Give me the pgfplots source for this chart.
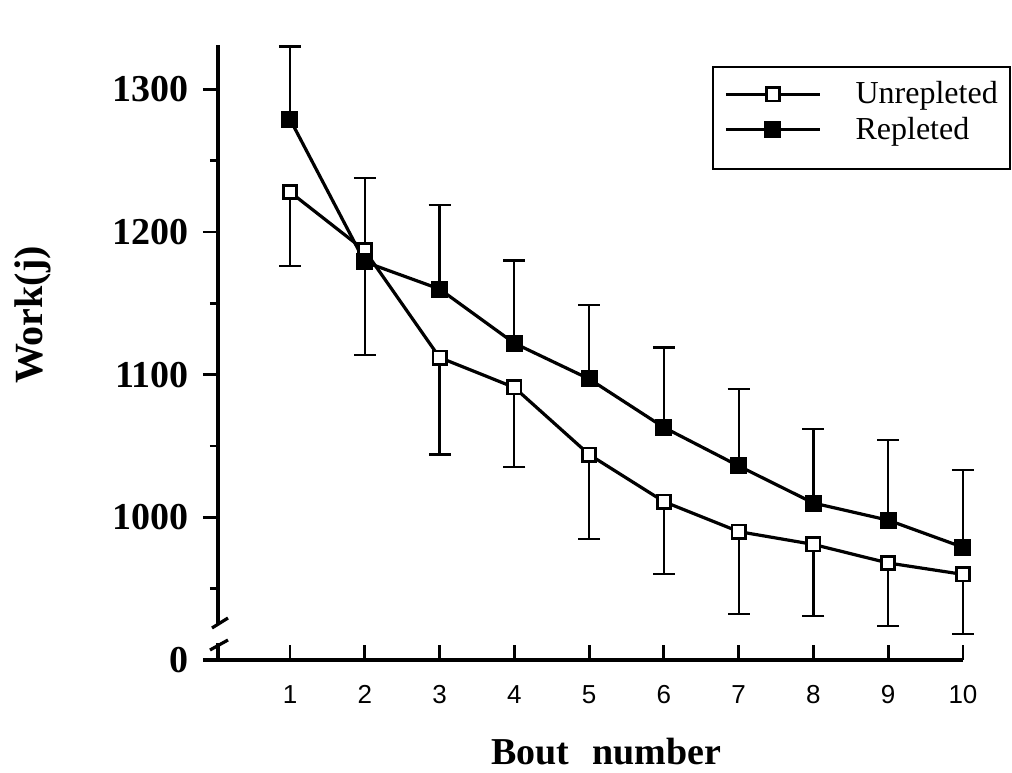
\documentclass[border=0pt]{standalone}
\usepackage{fontspec}
\setmainfont{Liberation Serif}
\newfontfamily\hel{Liberation Sans}
\usepackage{pgfplots}
\usepackage{pgfplotstable}
\pgfplotsset{compat=1.18}

% bout, unrepleted (mean, -SE), repleted (mean, +SE)
\pgfplotstableread{
x   U     Um   R     Rp
1   1228  52   1279  51
2   1187  73   1179  59
3   1112  68   1160  59
4   1091  56   1122  58
5   1044  59   1097  52
6   1011  51   1063  56
7   990   58   1036  54
8   981   50   1010  52
9   968   44   998   56
10  960   42   979   54
}\worktable

\begin{document}
\begin{tikzpicture}
\begin{axis}[
    scale only axis,
    width=372.5pt, height=307.5pt,
    xmin=0.037, xmax=10, ymin=900, ymax=1331,
    axis x line=bottom, axis y line=left,
    axis line style={draw=none,-},
    tick align=outside,
    major tick length=7.5pt, minor tick length=4pt,
    every tick/.style={black, line width=1.4pt},
    xtick style={yshift=7.5pt},
    xtick={1,...,10}, xticklabels={1,2,3,4,5,6,7,8,9,10},
    ytick={900,1000,1100,1200,1300},
    yticklabels={0,1000,1100,1200,1300},
    minor ytick={950,1050,1150,1250},
    xticklabel style={font=\hel\fontsize{13}{13}\selectfont, text height=9.5pt, text depth=0pt, yshift=-1pt},
    yticklabel style={font=\fontsize{19}{19}\selectfont\bfseries, xshift=-3.5pt},
    xlabel={Bout\hspace{0.6em}number},
    ylabel={Work(j)},
    xlabel style={font=\fontsize{19}{19}\selectfont\bfseries, at={(rel axis cs:0.521,-0.1496)}, anchor=center},
    ylabel style={font=\fontsize{20}{20}\selectfont\bfseries, at={(rel axis cs:-0.248,0.561)}, anchor=center, rotate=0},
    clip=false,
    legend style={at={(1.066,0.967)}, anchor=north east, draw=none, fill=none,
        font=\fontsize{16}{16}\selectfont, inner xsep=5pt, inner ysep=6pt,
        row sep=1pt, nodes={inner sep=2pt},
        /tikz/every odd column/.append style={column sep=15pt}},
    legend cell align=left,
    legend image code/.code={
        \draw[mark repeat=2, mark phase=2, #1] plot coordinates {(0pt,0pt) (23.5pt,0pt) (47pt,0pt)};},
]
\addplot[black, line width=1.6pt, mark=square*, mark size=3.3pt,
    mark options={fill=white, line width=1.4pt},
    error bars/.cd, y dir=minus, y explicit, error mark=|,
    error bar style={line width=1.1pt},
    error mark options={line width=1.1pt, mark size=5.5pt}]
    table[x=x, y=U, y error minus=Um] {\worktable};
\addlegendentry{Unrepleted}
\addplot[black, line width=1.6pt, mark=square*, mark size=4pt,
    mark options={fill=black, line width=0.5pt},
    error bars/.cd, y dir=plus, y explicit, error mark=|,
    error bar style={line width=1.1pt},
    error mark options={line width=1.1pt, mark size=5.5pt}]
    table[x=x, y=R, y error plus=Rp] {\worktable};
\addlegendentry{Repleted}

% legend frame
\draw[line width=1.3pt] (rel axis cs:0.6644,0.7984) rectangle (rel axis cs:1.0632,0.9642);

% axis lines with the break in the y axis
\draw[line width=2pt] ([xshift=-7.5pt]rel axis cs:0,0) -- (rel axis cs:1,0);
\draw[line width=2pt] (rel axis cs:0,1) -- ([yshift=18pt]rel axis cs:0,0);
\draw[line width=1.6pt] ([xshift=-3pt,yshift=16pt]rel axis cs:0,0) -- ([xshift=5pt,yshift=21pt]rel axis cs:0,0);
\draw[line width=2pt] (rel axis cs:0,0) -- ([yshift=8.5pt]rel axis cs:0,0);
\draw[line width=1.6pt] ([xshift=-4pt,yshift=5pt]rel axis cs:0,0) -- ([xshift=5pt,yshift=10pt]rel axis cs:0,0);

% page extent
\path (rel axis cs:-0.2926,-0.1789) rectangle (rel axis cs:1.0658,1.0732);
\end{axis}
\end{tikzpicture}
\end{document}
